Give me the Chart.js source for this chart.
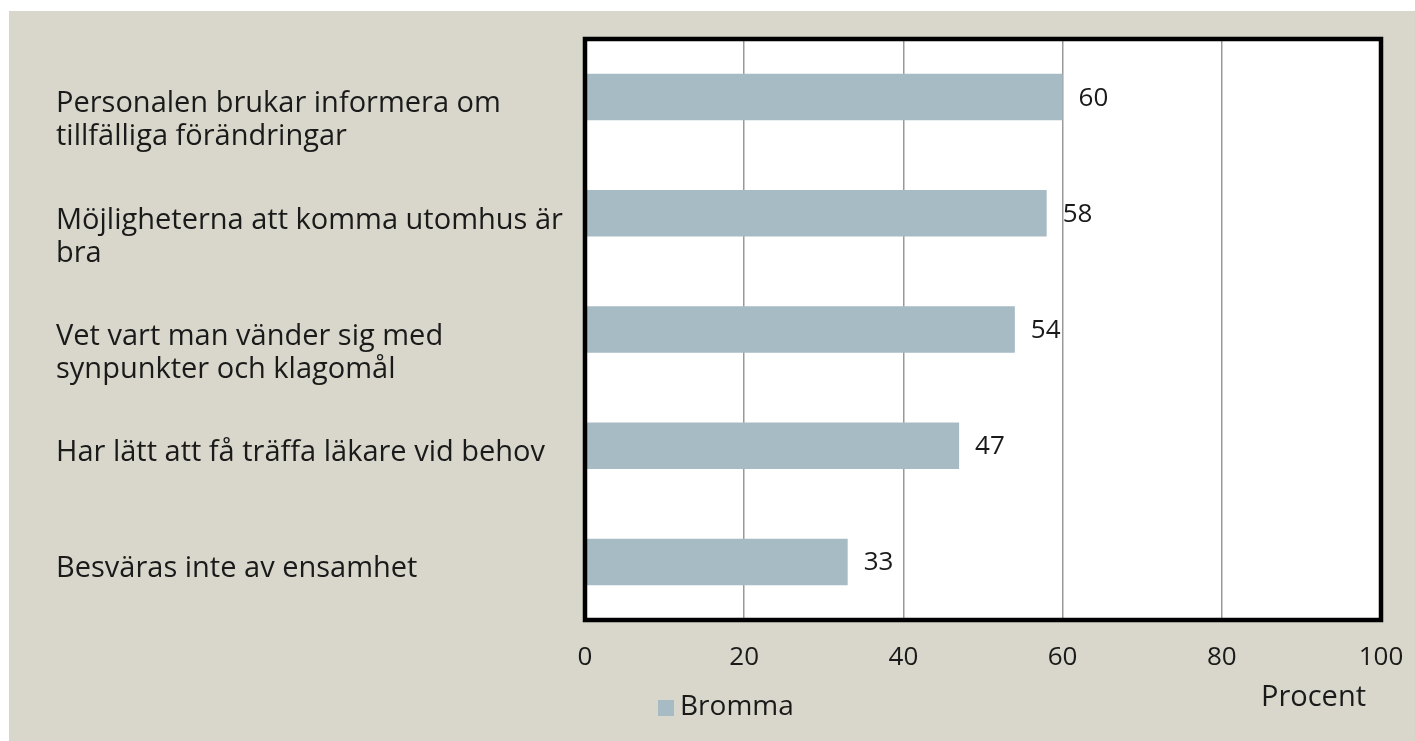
<!DOCTYPE html>
<html>
<head>
<meta charset="utf-8">
<script src="https://cdn.jsdelivr.net/npm/chart.js@4"></script>
<style>
  body { margin: 0; background: #ffffff; }
  #wrap { position: absolute; left: 9px; top: 11px; width: 1406px; height: 730px; background: #d9d7cb; }
</style>
</head>
<body>
<div id="wrap"><canvas id="chart" width="1406" height="730"></canvas></div>
<script>
// Data
const categories = [
  ['Personalen brukar informera om', 'tillfälliga förändringar'],
  ['Möjligheterna att komma utomhus är', 'bra'],
  ['Vet vart man vänder sig med', 'synpunkter och klagomål'],
  ['Har lätt att få träffa läkare vid behov'],
  ['Besväras inte av ensamhet']
];
const seriesName = 'Bromma';
const values = [60, 58, 54, 47, 33];
const xTicks = [0, 20, 40, 60, 80, 100];
const axisTitle = 'Procent';

const FONT = '"Open Sans", sans-serif';
const barColor = '#a7bbc5';

// egna ritningar: vit plotyta, ram, etiketter, legend
const extras = {
  id: 'extras',
  beforeDraw(chart) {
    const { ctx, chartArea: a } = chart;
    ctx.save();
    ctx.fillStyle = '#ffffff';
    ctx.fillRect(a.left, a.top, a.right - a.left, a.bottom - a.top);
    ctx.restore();
  },
  afterDraw(chart) {
    const { ctx, chartArea: a } = chart;
    const x = chart.scales.x, y = chart.scales.y;
    ctx.save();
    // ram
    ctx.strokeStyle = '#000000';
    ctx.lineWidth = 4.5;
    ctx.strokeRect(a.left, a.top, a.right - a.left, a.bottom - a.top);

    ctx.fillStyle = '#1a1a1a';
    ctx.textBaseline = 'middle';

    // kategorier
    ctx.font = '29px ' + FONT;
    ctx.textAlign = 'left';
    categories.forEach((lines, i) => {
      const cy = y.getPixelForValue(i);
      lines.forEach((line, j) => ctx.fillText(line, 47, cy + 7 + j * 33));
    });

    // värden
    ctx.font = '26px ' + FONT;
    values.forEach((v, i) => {
      ctx.fillText(String(v), x.getPixelForValue(v) + 16, y.getPixelForValue(i) + 1);
    });

    // axeltitel
    ctx.font = '29px ' + FONT;
    ctx.textAlign = 'right';
    ctx.fillText(axisTitle, a.right - 15, a.bottom + 78);

    // legend
    ctx.fillStyle = barColor;
    ctx.fillRect(a.left + 73, a.bottom + 80, 16, 16);
    ctx.fillStyle = '#1a1a1a';
    ctx.textAlign = 'left';
    ctx.font = '28px ' + FONT;
    ctx.fillText(seriesName, a.left + 95, a.bottom + 87);
    ctx.restore();
  }
};

new Chart(document.getElementById('chart'), {
  type: 'bar',
  data: {
    labels: categories.map(c => c.join(' ')),
    datasets: [{
      label: seriesName,
      data: values,
      backgroundColor: barColor,
      borderWidth: 0,
      barPercentage: 0.4,
      categoryPercentage: 1.0
    }]
  },
  options: {
    indexAxis: 'y',
    responsive: false,
    animation: false,
    layout: { padding: { left: 576, top: 28, right: 34, bottom: 0 } },
    plugins: {
      legend: { display: false },
      tooltip: { enabled: false }
    },
    scales: {
      x: {
        min: 0,
        max: 100,
        afterBuildTicks: s => { s.ticks = xTicks.map(v => ({ value: v })); },
        afterFit: s => { s.height = 121; s.paddingRight = 0; s.paddingLeft = 0; },
        grid: { color: '#999999', lineWidth: 1.5, drawTicks: false },
        border: { display: false },
        ticks: { color: '#1a1a1a', font: { family: FONT, size: 26 }, padding: 22, maxRotation: 0 }
      },
      y: {
        display: false
      }
    }
  },
  plugins: [extras]
});
</script>
</body>
</html>
